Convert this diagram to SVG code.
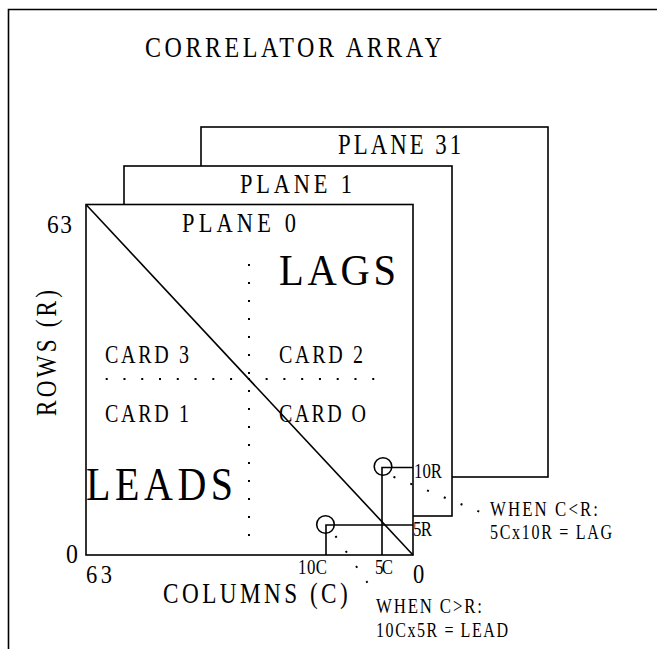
<svg xmlns="http://www.w3.org/2000/svg" width="657" height="649" viewBox="0 0 657 649">
<style>
.t{font-family:"Liberation Serif","Times New Roman",serif;fill:#000}
.ln{fill:none;stroke:#000;stroke-width:1.6}
.pl{fill:#fff;stroke:#000;stroke-width:1.6}
.dot{fill:none;stroke:#000;stroke-width:2}
</style>
<rect width="657" height="649" fill="#fff"/>
<g id="frame"><path class="ln" d="M8.5,649 V9.5 H657" stroke-width="2"/></g>
<g id="title"><text class="t" font-size="30" textLength="371" lengthAdjust="spacing" transform="translate(145,57) scale(0.8,1)">CORRELATOR ARRAY</text></g>
<g id="plane31">
<rect class="pl" x="201" y="127" width="347" height="350"/>
<text class="t" font-size="28.5" textLength="154" lengthAdjust="spacing" transform="translate(338,154) scale(0.8,1)">PLANE 31</text>
</g>
<g id="plane1">
<rect class="pl" x="124" y="166" width="328" height="350"/>
<text class="t" font-size="28" textLength="140" lengthAdjust="spacing" transform="translate(240,193) scale(0.8,1)">PLANE 1</text>
</g>
<g id="plane0">
<rect class="pl" x="86" y="204.5" width="327" height="350.5"/>
<text class="t" font-size="28" textLength="142.5" lengthAdjust="spacing" transform="translate(182,232) scale(0.8,1)">PLANE 0</text>
<text class="t" font-size="45" textLength="130" lengthAdjust="spacing" transform="translate(279,285) scale(0.9,1)">LAGS</text>
<text class="t" font-size="47" textLength="173" lengthAdjust="spacing" transform="translate(86,500) scale(0.85,1)">LEADS</text>
</g>
<g id="cards">
<text class="t" font-size="25" textLength="105" lengthAdjust="spacing" transform="translate(105,363) scale(0.8,1)">CARD 3</text>
<text class="t" font-size="25" textLength="105" lengthAdjust="spacing" transform="translate(279,363) scale(0.8,1)">CARD 2</text>
<text class="t" font-size="25" textLength="105" lengthAdjust="spacing" transform="translate(105,422) scale(0.8,1)">CARD 1</text>
<text class="t" font-size="25" textLength="108.8" lengthAdjust="spacing" transform="translate(279,422) scale(0.8,1)">CARD O</text>
</g>
<g id="axes">
<text class="t" font-size="26" textLength="27.8" lengthAdjust="spacing" transform="translate(47,233) scale(0.9,1)">63</text>
<text class="t" font-size="29" textLength="157.5" lengthAdjust="spacing" transform="translate(56,416) rotate(-90) scale(0.8,1)">ROWS (R)</text>
<text class="t" font-size="26.5" transform="translate(66,563) scale(0.9,1)">0</text>
<text class="t" font-size="25" textLength="28.9" lengthAdjust="spacing" transform="translate(86,583) scale(0.9,1)">63</text>
<text class="t" font-size="26.5" transform="translate(413,583) scale(0.85,1)">0</text>
<text class="t" font-size="29" textLength="231" lengthAdjust="spacing" transform="translate(163,603) scale(0.8,1)">COLUMNS (C)</text>
</g>
<g id="connectors">
<path class="ln" d="M86,204.5 L413,555"/>
<line class="dot" x1="105.7" y1="379" x2="375" y2="379" stroke-dasharray="2 15.77"/>
<line class="dot" x1="249" y1="264" x2="249" y2="537" stroke-dasharray="2 16"/>
<path class="ln" d="M413,467.5 H382 V555"/>
<path class="ln" d="M413,525 H326 V555"/>
<circle class="ln" cx="383" cy="466.5" r="8.8"/>
<circle class="ln" cx="325.5" cy="524.5" r="8.8"/>
<line class="dot" x1="393.5" y1="476.8" x2="480" y2="511.9" stroke-dasharray="2 16.1"/>
<line class="dot" x1="335.5" y1="536" x2="368" y2="583.5" stroke-dasharray="2 16.2"/>
</g>
<g id="markers">
<text class="t" font-size="21" textLength="36.3" lengthAdjust="spacing" transform="translate(298,574) scale(0.8,1)">10C</text>
<text class="t" font-size="21" textLength="22.5" lengthAdjust="spacing" transform="translate(375,574) scale(0.8,1)">5C</text>
<text class="t" font-size="21" textLength="35" lengthAdjust="spacing" transform="translate(414,478) scale(0.8,1)">10R</text>
<text class="t" font-size="21" textLength="23.8" lengthAdjust="spacing" transform="translate(413,536) scale(0.8,1)">5R</text>
</g>
<g id="note-lag">
<text class="t" font-size="21" textLength="135" lengthAdjust="spacing" transform="translate(490,516) scale(0.8,1)">WHEN C&lt;R:</text>
<text class="t" font-size="20" textLength="152.5" lengthAdjust="spacing" transform="translate(490,539) scale(0.8,1)">5Cx10R = LAG</text>
</g>
<g id="note-lead">
<text class="t" font-size="21" textLength="132.5" lengthAdjust="spacing" transform="translate(376,613) scale(0.8,1)">WHEN C&gt;R:</text>
<text class="t" font-size="20" textLength="165" lengthAdjust="spacing" transform="translate(376,637) scale(0.8,1)">10Cx5R = LEAD</text>
</g>
</svg>
